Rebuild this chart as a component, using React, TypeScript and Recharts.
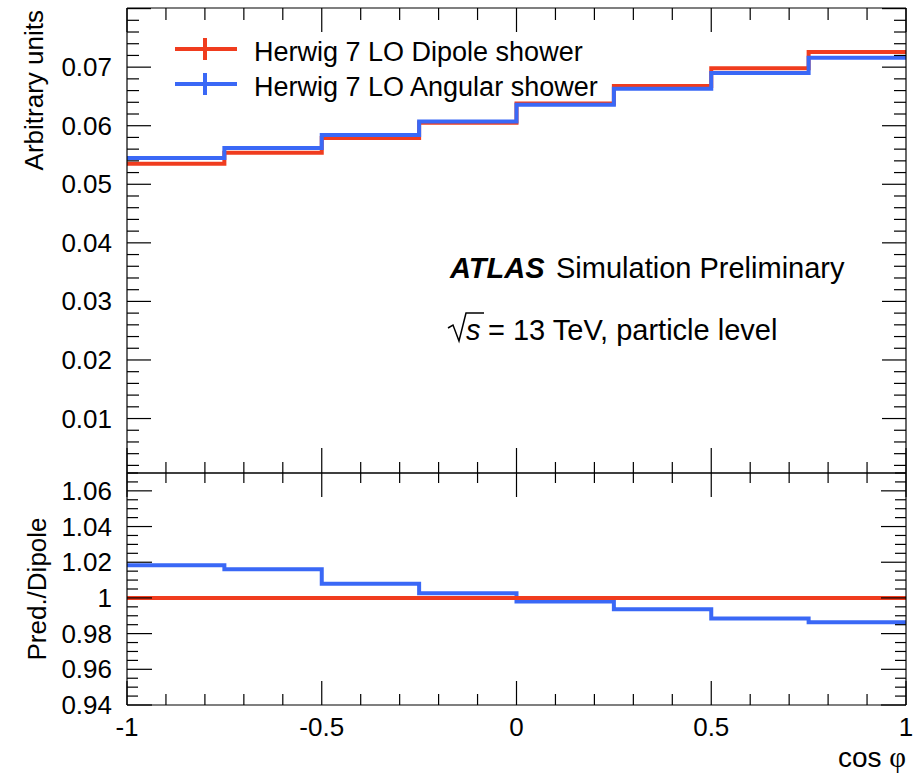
import React from "react";
import { LineChart, Line, XAxis, YAxis, Legend } from "recharts";

// bin edges of cos(phi), 8 bins of 0.25
const binEdges = [-1, -0.75, -0.5, -0.25, 0, 0.25, 0.5, 0.75, 1];
const dipole = [0.0535, 0.0554, 0.0579, 0.0605, 0.0638, 0.0668, 0.0698, 0.0726];
const angular = [0.0545, 0.0562, 0.0584, 0.0607, 0.0636, 0.0663, 0.069, 0.0716];
const ratioDipole = [1, 1, 1, 1, 1, 1, 1, 1];
const ratioAngular = [1.0183, 1.016, 1.008, 1.0026, 0.998, 0.9937, 0.9885, 0.9863];

const seriesNames = ["Herwig 7 LO Dipole shower", "Herwig 7 LO Angular shower"];

const xMajor = [-1, -0.5, 0, 0.5, 1];
const xLabels = ["-1", "-0.5", "0", "0.5", "1"];
const topMajor = [0.01, 0.02, 0.03, 0.04, 0.05, 0.06, 0.07, 0.08];
const topLabels = ["0.01", "0.02", "0.03", "0.04", "0.05", "0.06", "0.07", ""];
const ratioMajor = [0.94, 0.96, 0.98, 1, 1.02, 1.04, 1.06];
const ratioLabels = ["0.94", "0.96", "0.98", "1", "1.02", "1.04", "1.06"];

const RED = "#f03c1e";
const BLUE = "#3a68f6";
const FONT = "'Liberation Sans', Arial, Helvetica, sans-serif";

const round = (v: number) => Math.round(v * 10000) / 10000;
const xMinor = Array.from({ length: 21 }, (_, i) => round(-1 + i * 0.1));
const topMinor = Array.from({ length: 40 }, (_, i) => round(0.002 * (i + 1)));
const ratioMinor = Array.from({ length: 27 }, (_, i) => round(0.94 + 0.005 * i));

// step histograms: one point per bin edge, last value repeated at x = 1
const histData = binEdges.map((x, i) => ({
  x,
  dipole: dipole[Math.min(i, dipole.length - 1)],
  angular: angular[Math.min(i, angular.length - 1)],
}));
const ratioData = binEdges.map((x, i) => ({
  x,
  dipole: ratioDipole[Math.min(i, ratioDipole.length - 1)],
  angular: ratioAngular[Math.min(i, ratioAngular.length - 1)],
}));

type Side = "left" | "right" | "top" | "bottom";

function makeTick(side: Side, majors: number[], labels: string[] | null, majorLen: number, minorLen: number) {
  return (props: any) => {
    const { x, y, payload } = props;
    const v = payload.value;
    const idx = majors.findIndex((m) => Math.abs(m - v) < 1e-6);
    const len = idx >= 0 ? majorLen : minorLen;
    let x2 = x;
    let y2 = y;
    if (side === "left") x2 = x + len;
    if (side === "right") x2 = x - len;
    if (side === "top") y2 = y + len;
    if (side === "bottom") y2 = y - len;
    const label = labels && idx >= 0 ? labels[idx] : "";
    return (
      <g>
        <line x1={x} y1={y} x2={x2} y2={y2} stroke="#000" strokeWidth={1.2} />
        {label !== "" && side === "left" && (
          <text x={x - 15} y={y + 9} textAnchor="end" fontSize={26} fontFamily={FONT} fill="#000">
            {label}
          </text>
        )}
        {label !== "" && side === "bottom" && (
          <text x={x} y={y + 31} textAnchor="middle" fontSize={26} fontFamily={FONT} fill="#000">
            {label}
          </text>
        )}
      </g>
    );
  };
}

const renderLegend = (props: any) => {
  const items = [...(props.payload || [])].sort(
    (a: any, b: any) => seriesNames.indexOf(a.value) - seriesNames.indexOf(b.value)
  );
  return (
    <svg width={460} height={85} style={{ display: "block" }}>
      {items.map((it: any, i: number) => {
        const cy = 24 + i * 35;
        return (
          <g key={i}>
            <line x1={15} x2={77} y1={cy} y2={cy} stroke={it.color} strokeWidth={4} />
            <line x1={45} x2={45} y1={cy - 11} y2={cy + 11} stroke={it.color} strokeWidth={4} />
            <text x={94} y={cy + 12} fontSize={27} fontFamily={FONT} fill="#000">
              {it.value}
            </text>
          </g>
        );
      })}
    </svg>
  );
};

const axisLine = { stroke: "#000", strokeWidth: 1.2 };

export default function App() {
  return (
    <div style={{ position: "absolute", left: 0, top: 0, width: 918, height: 773, background: "#fff" }}>
      <div style={{ position: "absolute", left: 0, top: 0 }}>
        <LineChart width={918} height={480} data={histData} margin={{ top: 7, right: 11, bottom: 6, left: 126 }}>
          <XAxis xAxisId="b" dataKey="x" type="number" domain={[-1, 1]} ticks={xMinor} interval={0}
            height={1} tickSize={0} tickMargin={0} tickLine={false} axisLine={axisLine}
            tick={makeTick("bottom", xMajor, null, 25, 11)} allowDataOverflow />
          <XAxis xAxisId="t" orientation="top" dataKey="x" type="number" domain={[-1, 1]} ticks={xMinor} interval={0}
            height={1} tickSize={0} tickMargin={0} tickLine={false} axisLine={axisLine}
            tick={makeTick("top", xMajor, null, 24, 12)} allowDataOverflow />
          <YAxis yAxisId="l" type="number" domain={[0.0007, 0.0801]} ticks={topMinor} interval={0}
            width={1} tickSize={0} tickMargin={0} tickLine={false} axisLine={axisLine}
            tick={makeTick("left", topMajor, topLabels, 24, 12)} allowDataOverflow />
          <YAxis yAxisId="r" orientation="right" type="number" domain={[0.0007, 0.0801]} ticks={topMinor} interval={0}
            width={1} tickSize={0} tickMargin={0} tickLine={false} axisLine={axisLine}
            tick={makeTick("right", topMajor, null, 24, 12)} allowDataOverflow />
          <Legend layout="vertical" align="center" verticalAlign="middle" content={renderLegend}
            wrapperStyle={{ position: "absolute", left: 160, top: 25, width: 460, height: 85 }} />
          <Line xAxisId="b" yAxisId="l" type="stepAfter" dataKey="dipole" name={seriesNames[0]}
            stroke={RED} strokeWidth={4} dot={false} activeDot={false} isAnimationActive={false} />
          <Line xAxisId="b" yAxisId="l" type="stepAfter" dataKey="angular" name={seriesNames[1]}
            stroke={BLUE} strokeWidth={4} dot={false} activeDot={false} isAnimationActive={false} />
        </LineChart>
      </div>
      <div style={{ position: "absolute", left: 0, top: 460 }}>
        <LineChart width={918} height={313} data={ratioData} margin={{ top: 12, right: 11, bottom: 67, left: 126 }}>
          <XAxis xAxisId="b" dataKey="x" type="number" domain={[-1, 1]} ticks={xMinor} interval={0}
            height={1} tickSize={0} tickMargin={0} tickLine={false} axisLine={axisLine}
            tick={makeTick("bottom", xMajor, xLabels, 24, 11)} allowDataOverflow />
          <XAxis xAxisId="t" orientation="top" dataKey="x" type="number" domain={[-1, 1]} ticks={xMinor} interval={0}
            height={1} tickSize={0} tickMargin={0} tickLine={false} axisLine={axisLine}
            tick={makeTick("top", xMajor, null, 24, 10)} allowDataOverflow />
          <YAxis yAxisId="l" type="number" domain={[0.94, 1.07]} ticks={ratioMinor} interval={0}
            width={1} tickSize={0} tickMargin={0} tickLine={false} axisLine={axisLine}
            tick={makeTick("left", ratioMajor, ratioLabels, 25, 11)} allowDataOverflow />
          <YAxis yAxisId="r" orientation="right" type="number" domain={[0.94, 1.07]} ticks={ratioMinor} interval={0}
            width={1} tickSize={0} tickMargin={0} tickLine={false} axisLine={axisLine}
            tick={makeTick("right", ratioMajor, null, 25, 11)} allowDataOverflow />
          <Line xAxisId="b" yAxisId="l" type="stepAfter" dataKey="angular" name={seriesNames[1]}
            stroke={BLUE} strokeWidth={4} dot={false} activeDot={false} isAnimationActive={false} />
          <Line xAxisId="b" yAxisId="l" type="stepAfter" dataKey="dipole" name={seriesNames[0]}
            stroke={RED} strokeWidth={4} dot={false} activeDot={false} isAnimationActive={false} />
        </LineChart>
      </div>
      <svg width={918} height={773} style={{ position: "absolute", left: 0, top: 0, pointerEvents: "none" }}
        fontFamily={FONT} fill="#000">
        <text transform="translate(43,10) rotate(-90)" textAnchor="end" fontSize={26}>Arbitrary units</text>
        <text transform="translate(46,589) rotate(-90)" textAnchor="middle" fontSize={26}>Pred./Dipole</text>
        <text x={906} y={767} textAnchor="end" fontSize={28}>
          cos <tspan fontFamily="'Liberation Serif', 'DejaVu Serif', serif" fontSize={29}>φ</tspan>
        </text>
        <text x={450} y={278} fontSize={29} fontWeight="bold" fontStyle="italic">ATLAS</text>
        <text x={556} y={278} fontSize={29}>Simulation Preliminary</text>
        <polyline points="448,328 453,325 459,341 466,313 484,313" fill="none" stroke="#000" strokeWidth={1.5} />
        <text x={466} y={340} fontSize={29} fontStyle="italic">s</text>
        <text x={488} y={340} fontSize={29}>= 13 TeV, particle level</text>
      </svg>
    </div>
  );
}
